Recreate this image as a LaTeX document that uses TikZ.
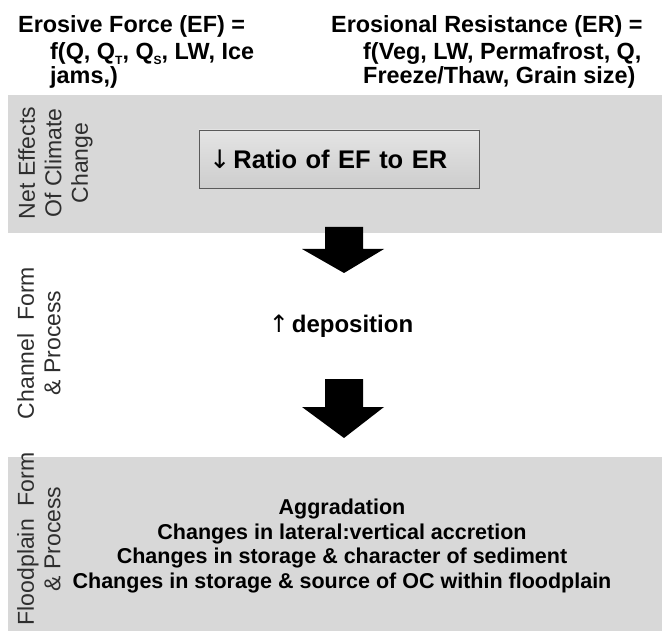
\documentclass[tikz,border=0pt]{standalone}
\usepackage{fontspec}
\setmainfont{Liberation Sans}
\newfontfamily\arrowfont{DejaVu Sans}
\definecolor{bandgray}{HTML}{D8D8D8}
\definecolor{labelgray}{HTML}{2E2E2E}
\definecolor{boxtop}{HTML}{E4E4E4}
\definecolor{boxbot}{HTML}{CDCDCD}
\definecolor{boxline}{HTML}{5A5A5A}
\newcommand{\mysub}[1]{\raisebox{-0.35ex}{\fontsize{12}{12}\selectfont #1}}
\newcommand{\myarrow}[1]{{\arrowfont\mdseries #1}}
\begin{document}
\begin{tikzpicture}[x=1pt,y=-1pt,
  head/.style={font=\fontsize{23.4}{25}\selectfont\bfseries, inner sep=0, anchor=base west},
  side/.style={font=\fontsize{23}{26.5}\selectfont, text=labelgray, rotate=90, anchor=north, align=center, inner sep=0},
  band/.style={fill=bandgray},
  ratiobox/.style={draw=boxline, line width=0.8pt, top color=boxtop, bottom color=boxbot,
    text width=260pt, align=left, inner xsep=10pt, inner ysep=0pt, minimum height=58pt,
    font=\fontsize{25.5}{28}\selectfont\bfseries},
  body/.style={font=\fontsize{21.5}{24}\selectfont\bfseries, inner sep=0, anchor=base},
  depo/.style={font=\fontsize{24}{26}\selectfont\bfseries, inner sep=0, anchor=base},
  blockarrow/.style={fill=black}]
\useasboundingbox (0,0) rectangle (662,631);
\fill[white] (0,0) rectangle (662,631);
% bands
\fill[band] (8,95) rectangle (662,233);
\fill[band] (8,457) rectangle (662,631);
% headers
\node[head] (ef1) at (18,33) {Erosive Force (EF) =};
\node[head] (ef2) at (50,60) {f(Q, Q\mysub{T}, Q\mysub{S}, LW, Ice};
\node[head] (ef3) at (50,84) {jams,)};
\node[head] (er1) at (331,33) {Erosional Resistance (ER) =};
\node[head] (er2) at (363,60) {f(Veg, LW, Permafrost, Q,};
\node[head] (er3) at (363,84) {Freeze/Thaw, Grain size)};
% side labels
\node[side] (lab1) at (18,163) {Net Effects\\Of Climate\\Change};
\node[side] (lab2) at (17,343) {Channel~~Form\\\& Process};
\node[side] (lab3) at (17,539) {Floodplain~~Form\\\& Process};
% ratio box
\node[ratiobox] (ratio) at (339,159) {\myarrow{↓}\hspace{3pt}Ratio of EF to ER};
% deposition
\node[depo] (dep) at (341,333) {\myarrow{↑}\hspace{3pt}deposition};
% floodplain text
\node[body] (fp1) at (342,514) {Aggradation};
\node[body] (fp2) at (342,539) {Changes in lateral:vertical accretion};
\node[body] (fp3) at (342,563) {Changes in storage \& character of sediment};
\node[body] (fp4) at (342,588) {Changes in storage \& source of OC within floodplain};
% block arrows
\fill[blockarrow] (325,227) -- (363,227) -- (363,249) -- (384,249) -- (344,273)
  -- (302,249) -- (325,249) -- cycle;
\fill[blockarrow] (325,379) -- (363,379) -- (363,407) -- (384,407) -- (344,438)
  -- (302,407) -- (325,407) -- cycle;
\end{tikzpicture}
\end{document}
